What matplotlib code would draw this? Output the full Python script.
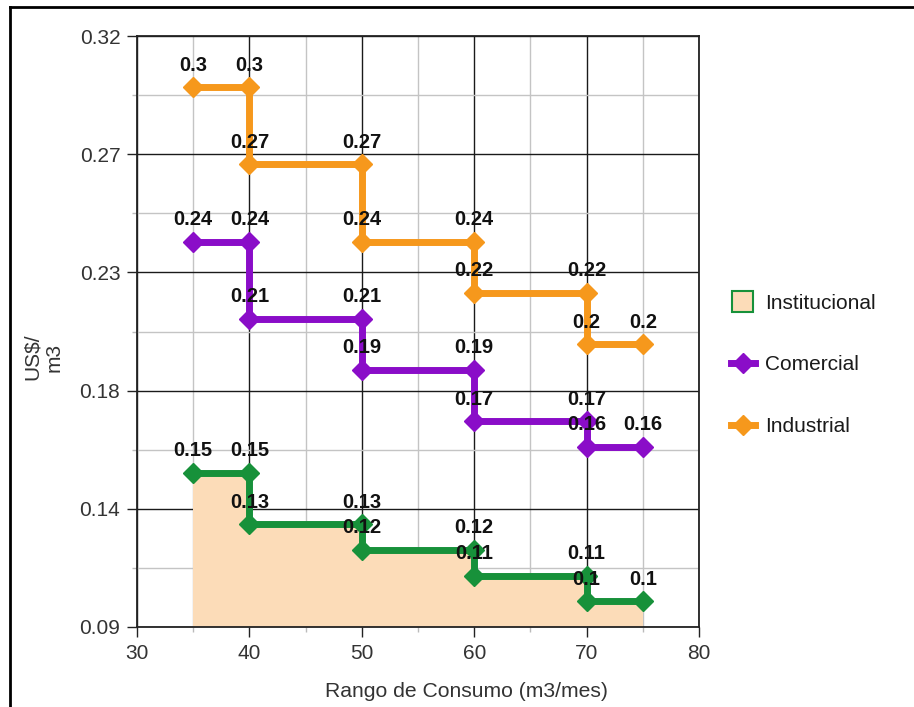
import matplotlib
matplotlib.use("Agg")
import matplotlib.pyplot as plt
from matplotlib.lines import Line2D
from matplotlib.patches import Patch, Rectangle
from matplotlib.legend_handler import HandlerPatch
from matplotlib.ticker import FixedLocator, FormatStrFormatter, MultipleLocator

plt.rcParams['font.family'] = ['Liberation Sans', 'DejaVu Sans']

# Consumption range breakpoints (m3/mes) and tariff per bracket (US$/m3)
breaks = [35, 40, 50, 60, 70, 75]
series_names = ["Institucional", "Comercial", "Industrial"]
institucional = [0.15, 0.13, 0.12, 0.11, 0.10]
comercial = [0.24, 0.21, 0.19, 0.17, 0.16]
industrial = [0.30, 0.27, 0.24, 0.22, 0.20]
y_ticks = [0.09, 0.136, 0.182, 0.228, 0.274, 0.32]
x_ticks = [30, 40, 50, 60, 70, 80]

colors = {"Institucional": "#17913a", "Comercial": "#8a0dc8", "Industrial": "#f6981c"}
fill_color = "#fcdcb8"


def step_points(bounds, rates):
    xs, ys = [], []
    for i, r in enumerate(rates):
        xs += [bounds[i], bounds[i + 1]]
        ys += [r, r]
    return xs, ys


fig = plt.figure(figsize=(9.14, 7.07), dpi=100)
ax = fig.add_axes([137 / 914, 1 - 627 / 707, 562 / 914, 591 / 707])

ax.set_xlim(30, 80)
ax.set_ylim(0.09, 0.32)
ax.xaxis.set_major_locator(FixedLocator(x_ticks))
ax.xaxis.set_minor_locator(MultipleLocator(5))
ax.yaxis.set_major_locator(FixedLocator(y_ticks))
ax.yaxis.set_minor_locator(FixedLocator([(a + b) / 2 for a, b in zip(y_ticks[:-1], y_ticks[1:])]))
ax.yaxis.set_major_formatter(FormatStrFormatter('%.2f'))

ax.grid(which='major', color='#1a1a1a', linewidth=1.0, zorder=0)
ax.grid(which='minor', color='#c4c4c4', linewidth=1.0, zorder=0)
ax.set_axisbelow(True)
for s in ax.spines.values():
    s.set_color('#222222')
    s.set_linewidth(1.3)

ax.tick_params(which='major', direction='out', length=7, width=1.0, color='#222222',
               labelsize=15, labelcolor='#333333', pad=5)
ax.tick_params(which='minor', direction='out', length=3.5, width=1.0, color='#bbbbbb')

for name, rates in zip(series_names, [institucional, comercial, industrial]):
    xs, ys = step_points(breaks, rates)
    if name == "Institucional":
        ax.fill_between(xs, ys, 0.09, color=fill_color, linewidth=0, zorder=2)
    ax.plot(xs, ys, color=colors[name], linewidth=5, marker='D', markersize=10,
            solid_joinstyle='miter', zorder=3, clip_on=False)
    for x, y in zip(xs, ys):
        ax.annotate(f"{y:g}", (x, y), xytext=(0, 12), textcoords='offset points',
                    ha='center', va='baseline', fontsize=14.5, fontweight='bold',
                    color='#111111', zorder=5)

fig.text(466.5 / 914, 1 - 697 / 707, "Rango de Consumo (m3/mes)", ha='center',
         va='baseline', fontsize=15.2, color='#333333')
fig.text(43 / 914, 1 - 357 / 707, "US$/\nm3", rotation=90, ha='center', va='center',
         fontsize=15, color='#333333', multialignment='center')


class SquareHandler(HandlerPatch):
    def create_artists(self, legend, orig_handle, xdescent, ydescent, width, height,
                       fontsize, trans):
        side = 15.0
        r = Rectangle((-xdescent + 1, -ydescent + height / 2 - side / 2), side, side,
                      facecolor=orig_handle.get_facecolor(),
                      edgecolor=orig_handle.get_edgecolor(),
                      linewidth=1.5, transform=trans)
        return [r]


handles = [
    Patch(facecolor=fill_color, edgecolor=colors["Institucional"]),
    Line2D([], [], color=colors["Comercial"], linewidth=5, marker='D', markersize=10),
    Line2D([], [], color=colors["Industrial"], linewidth=5, marker='D', markersize=10),
]
leg = fig.legend(handles, series_names, loc='center left',
                 bbox_to_anchor=(731 / 914, 1 - 365 / 707), frameon=False,
                 fontsize=15, handlelength=1.15, handletextpad=0.5,
                 labelspacing=2.05, borderpad=0, borderaxespad=0,
                 handler_map={Patch: SquareHandler()})
for t in leg.get_texts():
    t.set_color('#1a1a1a')

# outer frame
fig.add_artist(Line2D([10 / 914, 10 / 914], [0, 1 - 7 / 707], transform=fig.transFigure,
                      color='black', linewidth=2))
fig.add_artist(Line2D([10 / 914, 1], [1 - 7 / 707, 1 - 7 / 707], transform=fig.transFigure,
                      color='black', linewidth=2))

fig.savefig("out.png", dpi=100)
